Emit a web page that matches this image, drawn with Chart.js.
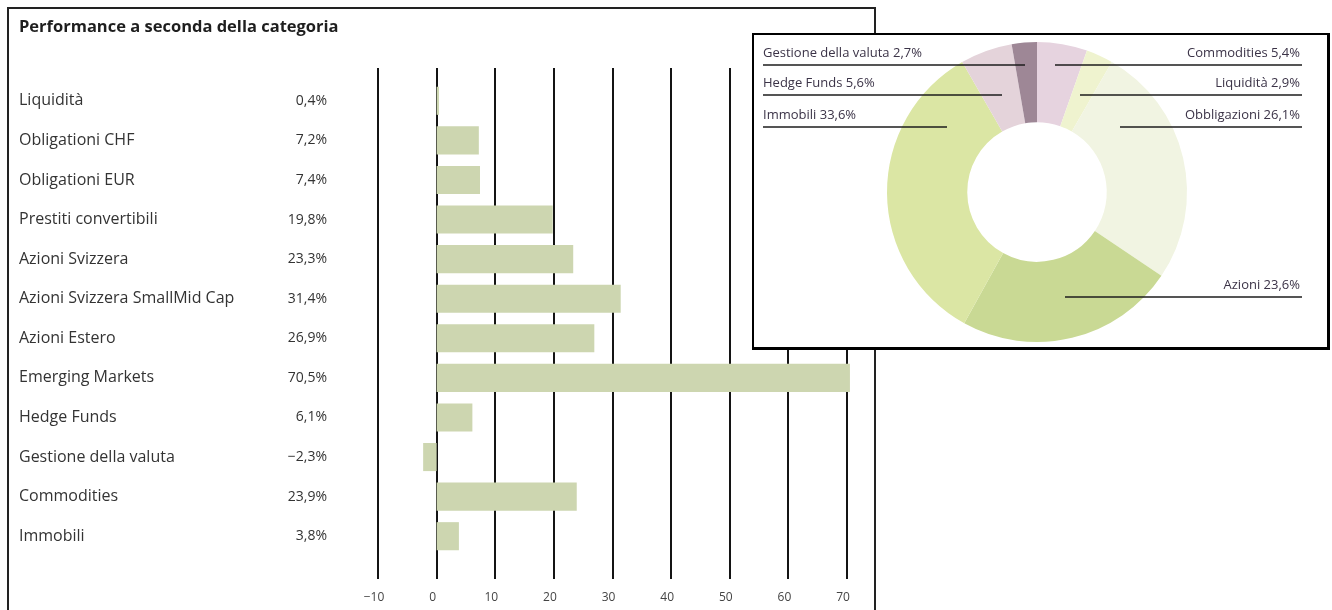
<!DOCTYPE html>
<html>
<head>
<meta charset="utf-8">
<script src="https://cdn.jsdelivr.net/npm/chart.js@4"></script>
<style>
html,body{margin:0;padding:0;background:#fff;width:1332px;height:610px;overflow:hidden;position:relative}
#barWrap{position:absolute;left:0;top:0;width:880px;height:610px}
#panel{position:absolute;left:7px;top:7px;width:869px;height:640px;border:2px solid #222;box-sizing:border-box;pointer-events:none}
#donutBox{position:absolute;left:752px;top:33px;width:578px;height:317px;border:2px solid #000;border-right-width:3px;border-bottom-width:3px;box-sizing:border-box;background:#fff}
#donutWrap{position:absolute;left:0;top:0;width:573px;height:312px}
</style>
</head>
<body>
<div id="barWrap"><canvas id="bar"></canvas></div>
<div id="panel"></div>
<div id="donutBox"><div id="donutWrap"><canvas id="donut"></canvas></div></div>
<script>
// ---- data ----
const categories = ['Liquidità','Obligationi CHF','Obligationi EUR','Prestiti convertibili','Azioni Svizzera','Azioni Svizzera SmallMid Cap','Azioni Estero','Emerging Markets','Hedge Funds','Gestione della valuta','Commodities','Immobili'];
const performance = [0.4, 7.2, 7.4, 19.8, 23.3, 31.4, 26.9, 70.5, 6.1, -2.3, 23.9, 3.8];
const xTicks = [-10, 0, 10, 20, 30, 40, 50, 60, 70];

const allocationLabels = ['Commodities','Liquidità','Obbligazioni','Azioni','Immobili','Hedge Funds','Gestione della valuta'];
const allocationValues = [5.4, 2.9, 26.1, 23.6, 33.6, 5.6, 2.7];
const allocationColors = ['#e6d3df','#eff3cf','#f1f4e2','#c9d994','#dbe6a4','#e4d3da','#9e8796'];

const chartTitle = 'Performance a seconda della categoria';

// ---- helpers ----
const fmt = v => (v < 0 ? '\u2212' : '') + Math.abs(v).toFixed(1).replace('.', ',') + '%';
const FONT = 'Open Sans';

// vertical grid lines drawn behind bars, extending past the category band
const gridPlugin = {
  id: 'gridLines',
  beforeDatasetsDraw(chart) {
    const {ctx, chartArea: a} = chart;
    const x = chart.scales.x;
    ctx.save();
    ctx.strokeStyle = '#141414';
    ctx.lineWidth = 2;
    xTicks.forEach(v => {
      const px = Math.round(x.getPixelForValue(v));
      ctx.beginPath();
      ctx.moveTo(px, a.top - 13);
      ctx.lineTo(px, a.bottom + 23);
      ctx.stroke();
    });
    ctx.restore();
  }
};

// value column next to the category names
const valuePlugin = {
  id: 'valueColumn',
  afterDatasetsDraw(chart) {
    const {ctx, chartArea: a} = chart;
    const y = chart.scales.y;
    ctx.save();
    ctx.font = '14px "' + FONT + '"';
    ctx.fillStyle = '#333';
    ctx.textAlign = 'right';
    ctx.textBaseline = 'middle';
    performance.forEach((v, i) => {
      ctx.fillText(fmt(v), a.left - 51, y.getPixelForValue(i));
    });
    ctx.restore();
  }
};

new Chart(document.getElementById('bar'), {
  type: 'bar',
  data: {
    labels: categories,
    datasets: [{
      data: performance,
      backgroundColor: '#cdd6b0',
      borderWidth: 0,
      categoryPercentage: 1,
      barPercentage: 0.71,
      clip: false
    }]
  },
  options: {
    indexAxis: 'y',
    responsive: true,
    maintainAspectRatio: false,
    animation: false,
    layout: {padding: {left: 19, right: 33, top: 0, bottom: 6}},
    plugins: {
      legend: {display: false},
      tooltip: {enabled: false},
      title: {
        display: true, text: chartTitle, align: 'start', color: '#1e1e1e',
        font: {family: FONT, size: 16.5, weight: 'bold', lineHeight: 1.1},
        padding: {top: 18, bottom: 44.85}
      }
    },
    scales: {
      x: {
        type: 'linear', min: -10, max: 70, position: 'bottom',
        afterBuildTicks: s => { s.ticks = xTicks.map(v => ({value: v})); },
        afterFit: s => { s.height = 48; s.paddingLeft = 0; s.paddingRight = 0; },
        grid: {display: false, drawTicks: false},
        border: {display: false},
        ticks: {
          padding: 34, color: '#444', labelOffset: -4,
          font: {family: FONT, size: 12},
          callback: v => (v < 0 ? '\u2212' + Math.abs(v) : String(v))
        }
      },
      y: {
        grid: {display: false, drawTicks: false},
        border: {display: false},
        afterFit: s => { s.width = 378 - 19; },
        ticks: {crossAlign: 'far', color: '#333', font: {family: FONT, size: 16}}
      }
    }
  },
  plugins: [gridPlugin, valuePlugin]
});

// ---- doughnut with leader-line labels ----
// label placement (canvas px): side, line y, inner end of the leader line
const labelPlacement = {
  'Gestione della valuta': {side: 'left', y: 30, x: 271},
  'Hedge Funds': {side: 'left', y: 60, x: 248},
  'Immobili': {side: 'left', y: 92, x: 193},
  'Commodities': {side: 'right', y: 30, x: 301},
  'Liquidità': {side: 'right', y: 60, x: 326},
  'Obbligazioni': {side: 'right', y: 92, x: 366},
  'Azioni': {side: 'right', y: 262, x: 311}
};
const leaderPlugin = {
  id: 'leaders',
  afterDatasetsDraw(chart) {
    const ctx = chart.ctx;
    const leftX = 9, rightX = 548;
    ctx.save();
    ctx.font = '13px "' + FONT + '"';
    ctx.fillStyle = '#3b3347';
    ctx.textBaseline = 'alphabetic';
    allocationLabels.forEach((name, i) => {
      const p = labelPlacement[name];
      const txt = name + ' ' + fmt(allocationValues[i]);
      ctx.strokeStyle = '#1c1c1c';
      ctx.lineWidth = 1.5;
      ctx.beginPath();
      if (p.side === 'left') {
        ctx.moveTo(leftX, p.y); ctx.lineTo(p.x, p.y);
        ctx.stroke();
        ctx.textAlign = 'left';
        ctx.fillText(txt, leftX, p.y - 8);
      } else {
        ctx.moveTo(p.x, p.y); ctx.lineTo(rightX, p.y);
        ctx.stroke();
        ctx.textAlign = 'right';
        ctx.fillText(txt, rightX - 2, p.y - 8);
      }
    });
    ctx.restore();
  }
};

new Chart(document.getElementById('donut'), {
  type: 'doughnut',
  data: {
    labels: allocationLabels,
    datasets: [{data: allocationValues, backgroundColor: allocationColors, borderWidth: 0}]
  },
  options: {
    responsive: true,
    maintainAspectRatio: false,
    animation: false,
    cutout: '46.5%',
    layout: {padding: {top: 7, bottom: 5, left: 0, right: 7}},
    plugins: {legend: {display: false}, tooltip: {enabled: false}}
  },
  plugins: [leaderPlugin]
});
</script>
</body>
</html>
